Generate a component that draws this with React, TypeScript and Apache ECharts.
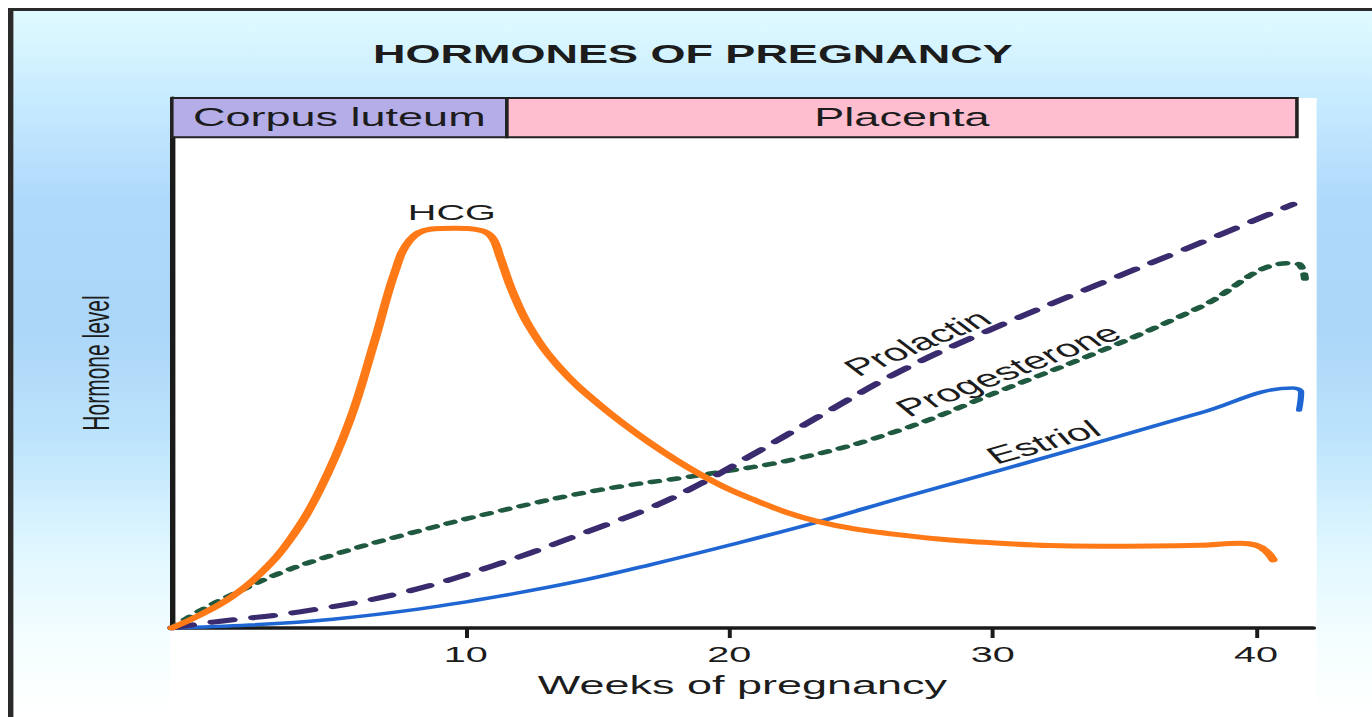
import React, { useEffect, useRef } from "react";
import * as echarts from "echarts";

// horizontal stretch of the whole figure (the reference is drawn wide)
const S = 1.8;

// x: weeks of pregnancy, y: relative hormone level
const hcg: [number, number][] = [
  [-1.16, 0], [-0.09, 2.65], [1.04, 6.1], [2.18, 11.0], [3.32, 18.0], [4.46, 28.2],
  [5.6, 42.4], [6.55, 58.8], [7.31, 72.7], [7.88, 79.2], [8.64, 81.4], [9.59, 81.6],
  [10.54, 81.2], [10.99, 79.8], [11.29, 75.9], [11.75, 69.0], [12.43, 61.4],
  [13.57, 53.1], [15.09, 45.5], [16.99, 37.8], [18.89, 31.4], [20.79, 26.5],
  [23.33, 21.8], [26.48, 19.0], [30.28, 17.3], [34.07, 16.7], [37.87, 16.9],
  [39.39, 17.3], [40.0, 16.9], [40.38, 15.7], [40.65, 13.9],
];
const prolactin: [number, number][] = [
  [-1.16, 0], [0.4, 1.2], [3.7, 3.3], [7.5, 7.1], [11.03, 12.7], [15.09, 20.6],
  [16.99, 24.5], [18.89, 29.4], [20.79, 35.1], [23.44, 43.3], [26.59, 52.7],
  [29.78, 60.6], [33.95, 70.0], [37.87, 78.6], [41.4, 86.5],
];
const progesterone: [number, number][] = [
  [-1.16, 0], [-0.09, 3.5], [1.16, 6.9], [2.94, 11.2], [4.95, 14.9], [7.5, 18.8],
  [11.29, 23.9], [15.09, 28.2], [18.89, 31.2], [22.68, 34.7], [26.48, 40.4],
  [30.28, 48.4], [34.57, 57.6], [37.87, 65.5], [41.29, 74.5], [41.67, 74.1],
  [41.86, 71.0],
];
const estriol: [number, number][] = [
  [-1.16, 0], [1.8, 0.6], [4.95, 1.8], [8.26, 3.9], [11.29, 6.5], [14.33, 9.6],
  [16.99, 12.9], [20.14, 17.1], [23.33, 21.6], [26.48, 26.5], [30.28, 32.2],
  [34.83, 39.2], [37.87, 43.9], [41.4, 49.0], [41.71, 48.2], [41.63, 44.5],
];

const xTicks = [10, 20, 30, 40];
const phaseNames = ["Corpus luteum", "Placenta"];
const phaseStarts = [-1.16, 11.56];
const phaseEnds = [11.56, 41.55];
const phaseColors = ["#b4ade7", "#ffbdd0"];

const X_MIN = -1.16;
const X_MAX = 42.16;
const Y_MAX = 108.2;
const BAND_LOW = 100.2;

const FONT = "'Liberation Sans', Arial, Helvetica, sans-serif";
const INK = "#1c1c1c";

function tag(name: string, at: [number, number], rotate: number, size: number) {
  return {
    symbol: "circle",
    symbolSize: 0,
    silent: true,
    label: {
      show: true,
      position: "inside",
      formatter: name,
      rotate,
      fontSize: size,
      fontFamily: FONT,
      color: INK,
    },
    data: [{ coord: at, name }],
  };
}

export default function App() {
  const ref = useRef<HTMLDivElement>(null);

  useEffect(() => {
    if (!ref.current) return;
    const chart = echarts.init(ref.current, null, { renderer: "svg" });
    const option: any = {
      animation: false,
      backgroundColor: "transparent",
      title: {
        text: "HORMONES OF PREGNANCY",
        left: "center",
        top: 31,
        padding: 0,
        textStyle: { fontFamily: FONT, fontWeight: "bold", fontSize: 25, color: INK },
      },
      grid: { left: 88, right: 33, top: 87, bottom: 89 },
      xAxis: {
        type: "value",
        min: X_MIN,
        max: X_MAX,
        name: "Weeks of pregnancy",
        nameLocation: "middle",
        nameGap: 45,
        nameTextStyle: { fontFamily: FONT, fontSize: 25, color: INK },
        axisLine: { show: true, onZero: false, lineStyle: { color: "#1a1a1a", width: 3.5 } },
        axisTick: {
          show: true,
          length: 10,
          customValues: xTicks,
          lineStyle: { color: "#1a1a1a", width: 2.2 },
        },
        axisLabel: {
          show: true,
          customValues: xTicks,
          margin: 15,
          fontFamily: FONT,
          fontSize: 22,
          color: INK,
        },
        splitLine: { show: false },
      },
      yAxis: {
        type: "value",
        min: 0,
        max: Y_MAX,
        name: "Hormone level",
        nameLocation: "middle",
        nameRotate: 90,
        nameGap: 32,
        nameTextStyle: { fontFamily: FONT, fontSize: 21, color: INK },
        axisLine: { show: true, onZero: false, lineStyle: { color: "#1a1a1a", width: 3 } },
        axisTick: { show: false },
        axisLabel: { show: false },
        splitLine: { show: false },
      },
      series: [
        {
          name: "Estriol",
          type: "line",
          data: estriol,
          smooth: 0.4,
          symbol: "none",
          lineStyle: { color: "#1f66d2", width: 3.5, cap: "round", join: "round" },
          markPoint: tag("Estriol", [31.91, 37.96], 27, 24),
          z: 3,
        },
        {
          name: "Progesterone",
          type: "line",
          data: progesterone,
          smooth: 0.4,
          symbol: "none",
          lineStyle: {
            color: "#1f5a40",
            width: 4.5,
            type: [4, 7],
            cap: "round",
            join: "round",
          },
          markPoint: tag("Progesterone", [30.58, 52.65], 34, 24),
          z: 4,
        },
        {
          name: "Prolactin",
          type: "line",
          data: prolactin,
          smooth: 0.4,
          symbol: "none",
          lineStyle: {
            color: "#3a2a6e",
            width: 5,
            type: [12, 11],
            cap: "round",
            join: "round",
          },
          markPoint: tag("Prolactin", [27.13, 58.2], 36, 24),
          z: 5,
        },
        {
          name: "HCG",
          type: "line",
          data: hcg,
          smooth: 0.4,
          symbol: "none",
          lineStyle: { color: "#ff7a17", width: 5, cap: "round", join: "round" },
          markPoint: tag("HCG", [9.47, 84.9], 0, 22),
          markArea: {
            silent: true,
            label: {
              show: true,
              position: "inside",
              fontFamily: FONT,
              fontSize: 25,
              color: INK,
            },
            data: phaseNames.map((n, i) => [
              {
                name: n,
                xAxis: phaseStarts[i],
                yAxis: BAND_LOW,
                itemStyle: {
                  color: phaseColors[i],
                  borderColor: "#222",
                  borderWidth: 2,
                  opacity: 1,
                },
              },
              { xAxis: phaseEnds[i], yAxis: Y_MAX },
            ]),
          },
          z: 6,
        },
      ],
    };
    chart.setOption(option);
    return () => chart.dispose();
  }, []);

  return (
    <div
      style={{
        position: "fixed",
        left: 0,
        top: 0,
        width: "100vw",
        height: "100vh",
        overflow: "hidden",
        background: "#ffffff",
      }}
    >
      <div
        style={{
          position: "absolute",
          left: 8,
          top: 8,
          width: 758,
          height: 709,
          boxSizing: "border-box",
          borderTop: "3px solid #2a2a2a",
          borderLeft: "3px solid #2a2a2a",
          background:
            "linear-gradient(to bottom, #e0fbff 0%, #c6eaff 13%, #afd9fb 27%, #acd6f8 45%, #bce3fc 60%, #dff7ff 76%, #f5feff 90%, #ffffff 100%)",
          transform: `scaleX(${S})`,
          transformOrigin: "0 0",
        }}
      >
        <div
          style={{
            position: "absolute",
            left: 87,
            top: 87,
            width: 637,
            bottom: 0,
            background: "#ffffff",
          }}
        />
        <div
          ref={ref}
          style={{ position: "absolute", left: 0, top: 0, width: 755, height: 706 }}
        />
      </div>
    </div>
  );
}
